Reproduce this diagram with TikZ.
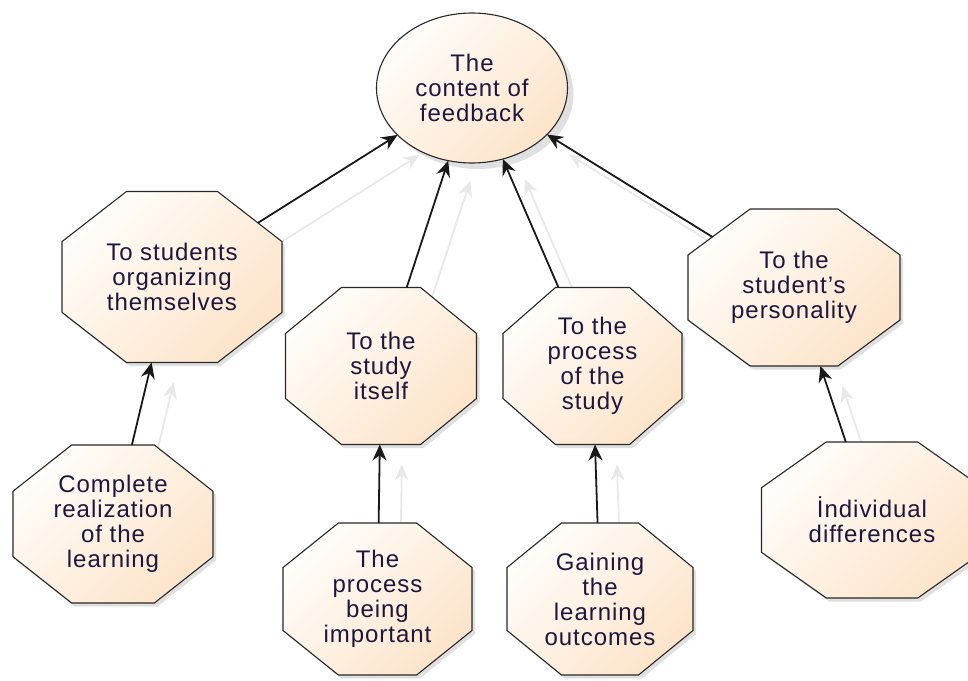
\documentclass[tikz,border=0pt]{standalone}
\usepackage{fontspec}
\setmainfont{Liberation Sans}[LetterSpace=4]
\usetikzlibrary{shapes.geometric,arrows.meta,shadows,backgrounds}
\definecolor{peach}{RGB}{253,228,202}
\definecolor{peachlight}{RGB}{255,253,250}
\definecolor{octline}{RGB}{40,40,40}
\definecolor{txt}{RGB}{30,22,60}
\definecolor{sharrowc}{RGB}{232,232,232}
\tikzset{
  fillstyle/.style={draw=octline, line width=1.1pt, top color=peachlight, bottom color=peach,
    shading angle=45, inner sep=0pt, outer sep=0pt},
  ell/.style={fillstyle, ellipse, align=center, font=\fontsize{24}{25}\selectfont, text=txt,
    drop shadow={shadow xshift=6pt, shadow yshift=-6pt, opacity=0.12, fill=black}},
  octshape/.style={fillstyle, regular polygon, regular polygon sides=8, minimum size=108.24pt,
    drop shadow={shadow xshift=3pt, shadow yshift=-3.6pt, opacity=0.12, fill=black}},
  octtext/.style={align=center, font=\fontsize{24}{25}\selectfont, text=txt, inner sep=0pt},
  link/.style={line width=1.8pt, draw=black!90, -{Stealth[length=16pt,width=14pt]}},
  slink/.style={line width=1.8pt, draw=sharrowc, -{Stealth[length=16pt,width=14pt]},
    transform canvas={xshift=22pt,yshift=-20pt}},
}
\newcommand{\octnode}[6]{%
  \begin{scope}[shift={(#2,#3)}, xscale=#4/100, yscale=#5/100]
    \node[octshape, transform shape] (#1) at (0,0) {};
  \end{scope}
  \node[octtext] (#1t) at (#1.center) {#6};
}
\begin{document}
\begin{tikzpicture}[x=1pt,y=-1pt]
\clip (0,0) rectangle (968,680);
\node[ell, minimum width=191pt, minimum height=150pt] (E) at (472,88) {The\\content of\\feedback};
\octnode{O1}{172}{277}{220}{171}{To students\\organizing\\themselves}
\octnode{O2}{381}{366}{191}{157}{To the\\study\\itself}
\octnode{O3}{592.5}{366}{179}{157}{To the\\process\\of the\\study}
\octnode{O4}{794}{287.5}{212}{157}{To the\\student's\\personality}
\octnode{O5}{113}{524}{200}{158}{Complete\\realization\\of the\\learning}
\octnode{O6}{377.5}{599}{189}{152}{The\\process\\being\\important}
\octnode{O7}{600}{599}{186}{152}{Gaining\\the\\learning\\outcomes}
\octnode{O8}{872}{520}{221}{156}{İndividual\\differences}
\begin{pgfonlayer}{background}
\draw[slink] (O1) -- (E);
\draw[slink] (O2) -- (E);
\draw[slink] (O3) -- (E);
\draw[slink] (O4) -- (E);
\draw[slink] (O5) -- (O1);
\draw[slink] (O6) -- (O2);
\draw[slink] (O7) -- (O3);
\draw[slink] (O8) -- (O4);
\end{pgfonlayer}
\draw[link] (O1) -- (E);
\draw[link] (O2) -- (E);
\draw[link] (O3) -- (E);
\draw[link] (O4) -- (E);
\draw[link] (O5) -- (O1);
\draw[link] (O6) -- (O2);
\draw[link] (O7) -- (O3);
\draw[link] (O8) -- (O4);
\end{tikzpicture}
\end{document}
